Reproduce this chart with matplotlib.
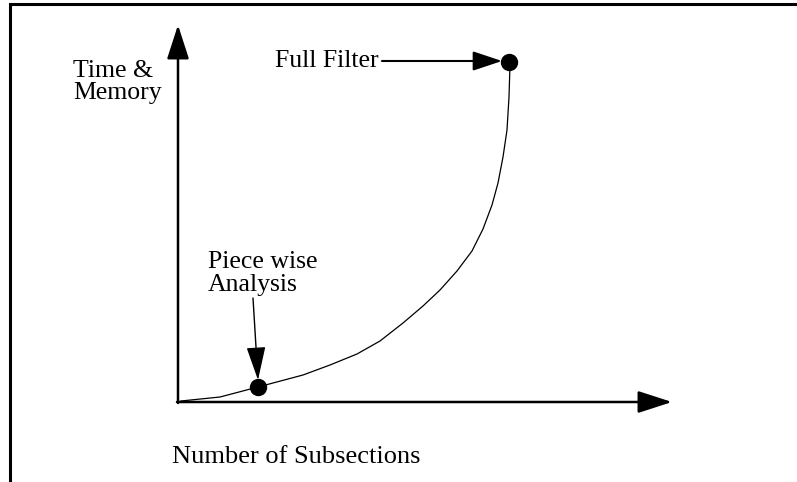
import matplotlib
matplotlib.use('Agg')
import matplotlib.pyplot as plt

plt.rcParams['font.family'] = ['Liberation Serif', 'DejaVu Serif']

# curve, origin where the two axes meet (units ~ pixels)
subsections = [3, 42, 80, 125, 152, 179, 202, 225, 245, 262, 279, 294, 305, 314, 320, 325, 329, 331, 332]
time_memory = [1, 5, 15, 27, 37, 48, 61, 79, 96, 112, 131, 151, 173, 197, 219, 245, 272, 305, 337]

# the two marked points
piecewise = (80, 15)
full_filter = (331, 340)

fig = plt.figure(figsize=(7.97, 4.82), dpi=100)
ax = fig.add_axes([0, 0, 1, 1])
ax.set_xlim(-178, 619)
ax.set_ylim(-80, 402)
ax.axis('off')

# frame round the sketch (left and top only)
ax.plot([-168, -168, 619], [-80, 398, 398], color='black', lw=2.2,
        solid_joinstyle='miter')

# axes with arrow heads
axis_arrow = dict(arrowstyle='-|>,head_length=21,head_width=6.8', mutation_scale=1,
                  color='black', lw=1.8, shrinkA=0, shrinkB=0)
ax.annotate('', xy=(0, 377), xytext=(0, -1), arrowprops=axis_arrow)
ax.annotate('', xy=(494, 0), xytext=(-1, 0), arrowprops=axis_arrow)

# the curve and its two points
ax.plot(subsections, time_memory, color='black', lw=0.9)
ax.plot(*piecewise, 'o', ms=11.5, color='black')
ax.plot(*full_filter, 'o', ms=11.5, color='black')

# labels
fs = 18.5
ax.text(-105, 325, 'Time &', fontsize=fs, va='baseline')
ax.text(-105, 303, 'Memory', fontsize=fs, va='baseline')
ax.text(-6, -61, 'Number of Subsections', fontsize=19, va='baseline')

ax.text(201, 335, 'Full Filter', fontsize=fs, va='baseline', ha='right')
ax.annotate('', xy=(324, 341), xytext=(204, 341),
            arrowprops=dict(arrowstyle='-|>,head_length=18,head_width=6',
                            mutation_scale=1, color='black', lw=1.5,
                            shrinkA=0, shrinkB=0))

ax.text(30, 134, 'Piece wise', fontsize=fs, va='baseline')
ax.text(30, 111, 'Analysis', fontsize=fs, va='baseline')
ax.annotate('', xy=(80, 22), xytext=(75, 104),
            arrowprops=dict(arrowstyle='-|>,head_length=21,head_width=6',
                            mutation_scale=1, color='black', lw=1.0,
                            shrinkA=0, shrinkB=0))

plt.savefig('out.png', dpi=100)
